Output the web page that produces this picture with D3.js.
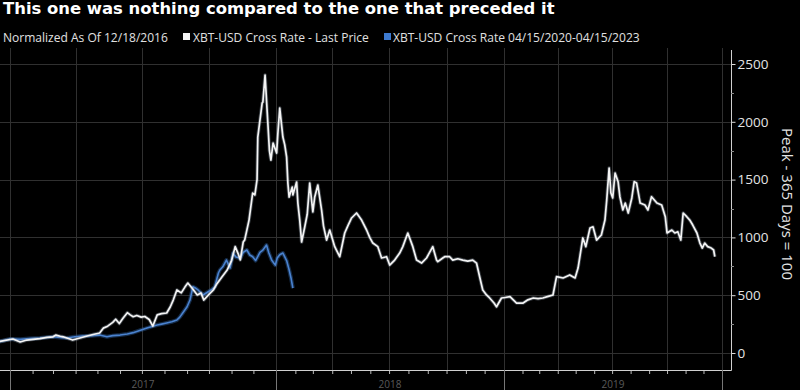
<!DOCTYPE html>
<html><head><meta charset="utf-8">
<script src="https://cdn.jsdelivr.net/npm/d3@7"></script>
<style>html,body{margin:0;padding:0;background:#000;overflow:hidden}</style>
</head><body><svg id="c" width="800" height="390"></svg>
<script>
// ---------- data ----------
const titleText = "This one was nothing compared to the one that preceded it";
const legendNote = "Normalized As Of 12/18/2016";
const seriesNames = ["XBT-USD Cross Rate - Last Price", "XBT-USD Cross Rate 04/15/2020-04/15/2023"];
const axisTitle = "Peak - 365 Days = 100";
const yTicks = [0, 500, 1000, 1500, 2000, 2500];
const yMinorTicks = [250, 750, 1250, 1750, 2250];
const yearTicks = ["2017-01-01", "2018-01-01", "2019-01-01", "2020-01-01"];
const yearLabels = ["2017", "2018", "2019"];
const baseDate = "2016-12-18"; // day 0 of both series (aligned: days since normalization)

const whiteDays = [0,18,28,37,46,55,65,73,77,83,87,94,100,110,120,128,137,142,148,155,159,164,169,175,179,183,188,194,199,205,210,216,222,229,234,238,243,249,254,258,264,271,276,280,286,293,298,305,312,318,323,327,330,334,336,342,347,350,353,354,357,360,361,364,367,370,372,375,380,382,385,390,393,396,398,400,405,406,412,414,417,420,425,429,433,438,441,446,452,455,460,465,473,481,489,494,500,508,516,524,529,534,542,548,556,561,569,577,582,590,598,604,612,620,630,636,638,646,649,657,662,670,678,686,694,700,705,710,716,721,728,732,740,746,754,765,776,784,793,801,809,818,826,832,843,854,863,868,876,881,888,893,899,907,913,916,920,923,926,930,935,938,943,947,952,958,962,966,972,980,985,991,1000,1008,1014,1017,1025,1030,1035,1040,1044,1050,1055,1060,1067,1072,1076,1080,1085,1091,1095,1097];
const whiteValues = [100,121,95,112,118,125,135,140,155,145,140,125,112,130,147,160,173,215,232,265,292,255,300,349,330,314,325,310,316,290,233,330,340,346,400,458,545,520,570,605,560,502,520,458,500,545,600,660,718,800,920,860,805,960,977,1150,1384,1367,1500,1868,2015,2162,2170,2405,2076,1750,1669,1816,1730,1900,2119,1868,1800,1695,1470,1349,1436,1367,1479,1297,1150,960,1090,1200,1470,1220,1350,1453,1237,1100,977,1064,920,833,1038,1100,1168,1211,1150,1064,1000,951,920,822,833,761,804,865,920,1038,920,804,778,822,920,804,790,822,833,833,804,815,804,795,804,778,660,545,502,476,432,400,476,480,487,432,432,460,476,470,476,490,502,660,649,675,649,735,995,920,1081,1092,977,1021,1150,1323,1600,1384,1341,1557,1482,1352,1237,1297,1211,1341,1482,1470,1297,1280,1237,1352,1297,1280,1179,1038,1064,1038,1049,977,1211,1179,1150,1107,1038,951,908,951,920,908,891,833];

const blueDays = [0,7,14,28,41,55,73,83,92,103,114,126,137,147,155,165,175,183,192,202,209,216,222,229,236,243,247,251,257,261,265,269,272,279,286,291,295,300,302,306,311,316,320,324,330,334,339,343,347,351,357,361,366,369,373,378,381,385,390,396,400,403,406];
const blueValues = [100,110,121,118,125,130,141,135,130,140,147,150,155,141,150,155,165,176,195,216,230,242,250,260,270,285,310,346,400,458,573,560,545,502,530,550,573,692,718,746,804,735,865,830,820,870,891,848,833,800,870,890,934,870,804,760,822,850,865,800,720,649,562];

// ---------- layout ----------
const W = 800, H = 390;
const plotLeft = 0, plotRight = 731, plotTop = 48, plotBottom = 370;
const svg = d3.select("#c");
svg.append("rect").attr("width", W).attr("height", H).attr("fill", "#000");

const parse = d3.timeParse("%Y-%m-%d");
const base = parse(baseDate);
const yearDates = yearTicks.map(parse);
const x = d3.scaleTime().domain(yearDates).range([10, 276, 504, 722]);
const y = d3.scaleLinear().domain([0, 2500]).range([353, 64]);
const dayToDate = d => d3.timeDay.offset(base, d);

// gridlines
const grid = svg.append("g").attr("stroke", "#303030").attr("stroke-width", 1);
const quarters = d3.timeMonth.every(3).range(yearDates[0], d3.timeDay.offset(yearDates[3], 1));
grid.selectAll("line.v").data(quarters).join("line")
  .attr("x1", d => Math.round(x(d)) + 0.5).attr("x2", d => Math.round(x(d)) + 0.5)
  .attr("y1", plotTop).attr("y2", plotBottom);
grid.selectAll("line.h").data(yTicks).join("line")
  .attr("x1", plotLeft).attr("x2", plotRight)
  .attr("y1", d => Math.round(y(d)) + 0.5).attr("y2", d => Math.round(y(d)) + 0.5);

// series
const line = d3.line().x(d => x(dayToDate(d[0]))).y(d => y(d[1]));
const blueData = blueDays.map((d, i) => [d, blueValues[i]]);
const whiteData = whiteDays.map((d, i) => [d, whiteValues[i]]);

svg.append("path").attr("d", line(blueData)).attr("fill", "none")
  .attr("stroke", "#2f5f9e").attr("stroke-opacity", 0.45).attr("stroke-width", 4).attr("stroke-linejoin", "round");
svg.append("path").attr("d", line(blueData)).attr("fill", "none")
  .attr("stroke", "#4a82cf").attr("stroke-width", 1.6).attr("stroke-linejoin", "round");
svg.append("path").attr("d", line(whiteData)).attr("fill", "none")
  .attr("stroke", "#9aa8b8").attr("stroke-opacity", 0.35).attr("stroke-width", 3.5).attr("stroke-linejoin", "round");
svg.append("path").attr("d", line(whiteData)).attr("fill", "none")
  .attr("stroke", "#f4f4f4").attr("stroke-width", 1.7).attr("stroke-linejoin", "round");

// bottom axis (monthly ticks)
const months = d3.timeMonth.range(yearDates[0], d3.timeDay.offset(yearDates[3], 1));
const xAxis = d3.axisBottom(x).tickValues(months).tickSize(4).tickFormat("");
const gx = svg.append("g").attr("transform", `translate(0,${plotBottom})`).call(xAxis);
gx.select(".domain").remove();
gx.selectAll(".tick line").attr("stroke", "#bbb");
svg.append("line").attr("x1", plotLeft).attr("x2", plotRight + 0.5)
  .attr("y1", plotBottom + 0.5).attr("y2", plotBottom + 0.5).attr("stroke", "#d0d0d0");
// year ticks
svg.append("g").selectAll("line").data(yearDates).join("line")
  .attr("x1", d => Math.round(x(d)) + 0.5).attr("x2", d => Math.round(x(d)) + 0.5)
  .attr("y1", plotBottom).attr("y2", H).attr("stroke", "#777");
// year labels
svg.append("g").selectAll("text").data(yearLabels).join("text")
  .attr("x", (d, i) => (x(yearDates[i]) + x(yearDates[i + 1])) / 2)
  .attr("y", 388).attr("text-anchor", "middle")
  .attr("font-family", "Open Sans").attr("font-size", 10).attr("fill", "#5a5a5a")
  .text(d => d);

// right axis
const yAxis = d3.axisRight(y).tickValues(yTicks).tickSize(4).tickPadding(2).tickFormat(d3.format("d"));
const gy = svg.append("g").attr("transform", `translate(${plotRight + 0.5},0)`).call(yAxis);
gy.select(".domain").remove();
gy.selectAll(".tick line").attr("stroke", "#ddd");
gy.selectAll(".tick text").attr("font-family", "Open Sans").attr("font-size", 13.5).attr("fill", "#e4e4e4");
svg.append("line").attr("x1", plotRight + 0.5).attr("x2", plotRight + 0.5)
  .attr("y1", plotTop + 2).attr("y2", plotBottom + 0.5).attr("stroke", "#d0d0d0");
svg.append("g").selectAll("line").data(yMinorTicks).join("line")
  .attr("x1", plotRight).attr("x2", plotRight + 3)
  .attr("y1", d => Math.round(y(d)) + 0.5).attr("y2", d => Math.round(y(d)) + 0.5)
  .attr("stroke", "#888");

// right axis title
svg.append("text").attr("transform", `translate(782,204) rotate(90)`)
  .attr("text-anchor", "middle").attr("font-family", "Open Sans").attr("font-size", 15)
  .attr("fill", "#e4e4e4").text(axisTitle);

// title (fit to reference width)
const t = svg.append("text").attr("x", 3).attr("y", 14)
  .attr("font-family", "DejaVu Sans").attr("font-weight", "bold").attr("font-size", 15)
  .attr("fill", "#fff").text(titleText);
const tw = t.node().getComputedTextLength();
t.attr("font-size", 15 * 552 / tw);

// legend
const lg = svg.append("g").attr("font-family", "Open Sans").attr("fill", "#e0e0e0");
const l1 = lg.append("text").attr("x", 3).attr("y", 42).attr("font-size", 12).text(legendNote);
const fs = 12 * 165 / l1.node().getComputedTextLength();
l1.attr("font-size", fs);
lg.append("rect").attr("x", 183).attr("y", 33).attr("width", 7).attr("height", 7).attr("fill", "#f4f4f4");
lg.append("text").attr("x", 193).attr("y", 42).attr("font-size", fs).text(seriesNames[0]);
lg.append("rect").attr("x", 384).attr("y", 33).attr("width", 7).attr("height", 7).attr("fill", "#3d7ad0");
lg.append("text").attr("x", 393).attr("y", 42).attr("font-size", fs).text(seriesNames[1]);
</script></body></html>
